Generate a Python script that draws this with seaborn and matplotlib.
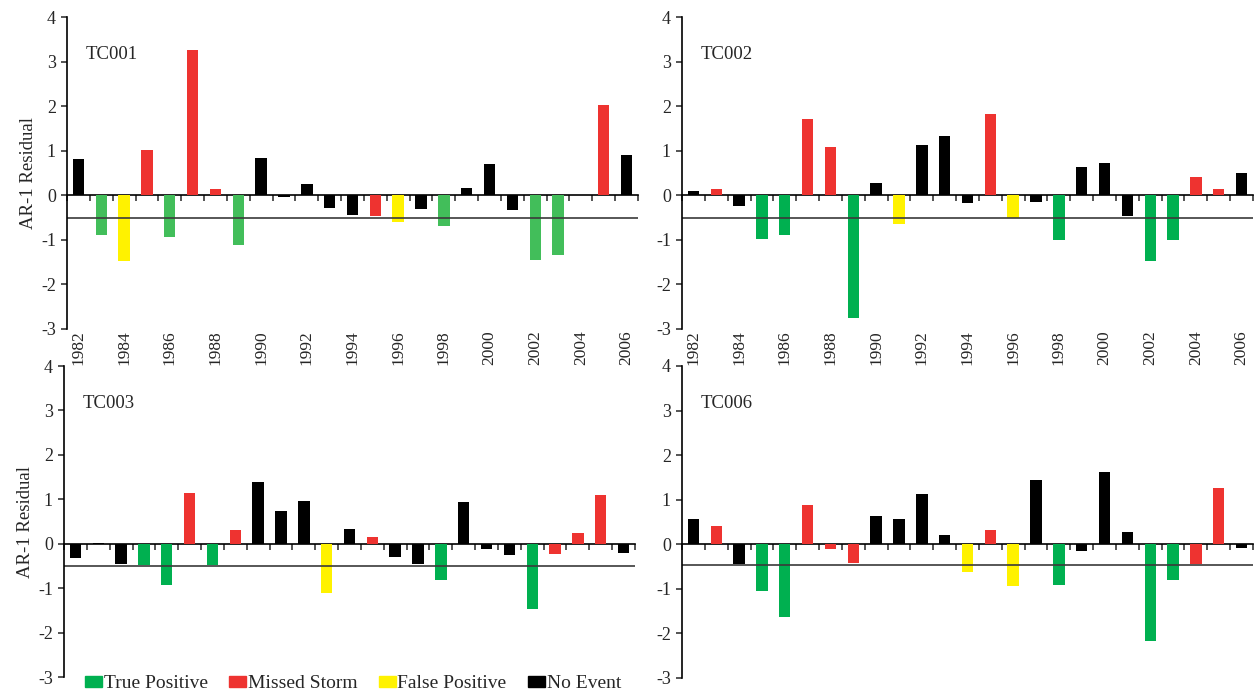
import numpy as np
import pandas as pd
import seaborn as sns
import matplotlib.pyplot as plt
from matplotlib.patches import Patch

# Dados (resíduo AR-1 por ano)
years = list(range(1982, 2007))

tc001_res = [0.82, -0.88, -1.48, 1.02, -0.93, 3.27, 0.13, -1.12, 0.84, -0.04, 0.25, -0.28,
             -0.44, -0.46, -0.60, -0.30, -0.70, 0.16, 0.70, -0.34, -1.45, -1.34, 0.0, 2.03, 0.90]
tc001_evt = ['NE', 'TP', 'FP', 'MS', 'TP', 'MS', 'MS', 'TP', 'NE', 'NE', 'NE', 'NE',
             'NE', 'MS', 'FP', 'NE', 'TP', 'NE', 'NE', 'NE', 'TP', 'TP', 'NE', 'MS', 'NE']

tc002_res = [0.09, 0.13, -0.25, -0.98, -0.88, 1.72, 1.09, -2.75, 0.27, -0.65, 1.13, 1.34,
             -0.18, 1.83, -0.50, -0.15, -1.00, 0.64, 0.72, -0.46, -1.48, -1.00, 0.40, 0.15, 0.50]
tc002_evt = ['NE', 'MS', 'NE', 'TP', 'TP', 'MS', 'MS', 'TP', 'NE', 'FP', 'NE', 'NE',
             'NE', 'MS', 'FP', 'NE', 'TP', 'NE', 'NE', 'NE', 'TP', 'TP', 'MS', 'MS', 'NE']

tc003_res = [-0.32, 0.01, -0.45, -0.49, -0.94, 1.15, -0.49, 0.30, 1.38, 0.74, 0.97, -1.12,
             0.32, 0.16, -0.29, -0.46, -0.82, 0.95, -0.11, -0.25, -1.47, -0.23, 0.25, 1.10, -0.20]
tc003_evt = ['NE', 'NE', 'NE', 'TP', 'TP', 'MS', 'TP', 'MS', 'NE', 'NE', 'NE', 'FP',
             'NE', 'MS', 'NE', 'NE', 'TP', 'NE', 'NE', 'NE', 'TP', 'MS', 'MS', 'MS', 'NE']

tc006_res = [0.56, 0.40, -0.44, -1.04, -1.64, 0.89, -0.10, -0.41, 0.64, 0.56, 1.13, 0.20,
             -0.63, 0.31, -0.93, 1.45, -0.92, -0.15, 1.62, 0.27, -2.18, -0.80, -0.45, 1.26, -0.09]
tc006_evt = ['NE', 'MS', 'NE', 'TP', 'TP', 'MS', 'MS', 'MS', 'NE', 'NE', 'NE', 'NE',
             'FP', 'MS', 'FP', 'NE', 'TP', 'NE', 'NE', 'NE', 'TP', 'TP', 'MS', 'MS', 'NE']

panel_names = ['TC001', 'TC002', 'TC003', 'TC006']
thresholds = [-0.50, -0.52, -0.51, -0.47]

event_names = {'TP': 'True Positive', 'MS': 'Missed Storm', 'FP': 'False Positive', 'NE': 'No Event'}
hue_order = ['True Positive', 'Missed Storm', 'False Positive', 'No Event']

cores = {'True Positive': '#00B050', 'Missed Storm': '#EE3330',
         'False Positive': '#FFF200', 'No Event': '#000000'}
cores_tc001 = dict(cores, **{'True Positive': '#42BE5A'})

sns.set_style('white')
plt.rcParams['font.family'] = ['Liberation Serif', 'DejaVu Serif']
plt.rcParams['font.size'] = 13
plt.rcParams['axes.unicode_minus'] = False

W, H = 1256, 696
fig = plt.figure(figsize=(W / 100, H / 100), dpi=100)

# posição dos painéis em pixels: esquerda, topo, direita, base
caixas = [(67, 17, 638, 329), (682, 17, 1253, 329),
          (64, 366, 635, 677), (682, 366, 1253, 678)]

dados = [(tc001_res, tc001_evt), (tc002_res, tc002_evt),
         (tc003_res, tc003_evt), (tc006_res, tc006_evt)]

ymin, ymax = -3, 4

for i, ((res, evt), nome, thr, cx) in enumerate(zip(dados, panel_names, thresholds, caixas)):
    l, t, r, b = cx
    ax = fig.add_axes([l / W, 1 - b / H, (r - l) / W, (b - t) / H])
    df = pd.DataFrame({'year': years, 'residual': res,
                       'event': [event_names[e] for e in evt]})
    pal = cores_tc001 if nome == 'TC001' else cores
    sns.barplot(data=df, x='year', y='residual', hue='event', hue_order=hue_order,
                order=years, palette=pal, dodge=False, width=0.5, saturation=1,
                linewidth=0, errorbar=None, legend=False, ax=ax)
    ax.axhline(thr, color='#3a3a3a', lw=1.2)

    ax.set_xlim(-0.5, len(years) - 0.5)
    ax.set_ylim(ymin, ymax)
    ax.set_yticks(range(ymin, ymax + 1))
    ax.tick_params(axis='y', direction='out', length=4, width=1.1, pad=4, left=True,
                   labelsize=13)

    for s in ['top', 'right', 'bottom']:
        ax.spines[s].set_visible(False)
    ax.spines['left'].set_color('black')
    ax.spines['left'].set_linewidth(1.2)

    # eixo em y = 0 com marcas entre os anos
    sec = ax.secondary_xaxis((0 - ymin) / (ymax - ymin))
    marcas = np.arange(-0.5, len(years), 1)
    sec.set_xticks(marcas, labels=[''] * len(marcas))
    sec.tick_params(direction='out', length=4, width=1.1)
    sec.spines['bottom'].set_linewidth(1.2)
    sec.spines['bottom'].set_color('black')

    ax.set_xticks(range(0, len(years), 2))
    if i < 2:
        ax.set_xticklabels([str(y) for y in years[::2]], rotation=90)
    else:
        ax.set_xticklabels([])
    ax.tick_params(axis='x', length=0, pad=1, labelsize=12.5)
    ax.set_xlabel('')

    if i % 2 == 0:
        ax.set_ylabel('AR-1 Residual', fontsize=13.5)
        ax.yaxis.set_label_coords(-0.052, 0.5)
    else:
        ax.set_ylabel('')

    ax.text(0.032, 0.88, nome, transform=ax.transAxes, ha='left', va='center', fontsize=13.5)

handles = [Patch(color=cores[k]) for k in hue_order]
fig.legend(handles, hue_order, loc='center left', bbox_to_anchor=(85 / W, 1 - 684 / H),
           ncol=4, frameon=False, handlelength=0.88, handleheight=0.5, handletextpad=0.08,
           columnspacing=1.1, borderaxespad=0, borderpad=0, fontsize=14)

fig.savefig('out.png', dpi=100)
